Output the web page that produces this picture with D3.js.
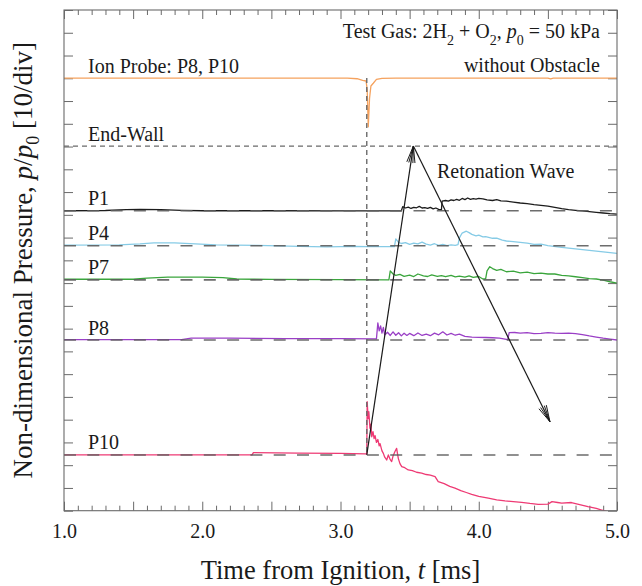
<!DOCTYPE html>
<html><head><meta charset="utf-8">
<script src="https://cdn.jsdelivr.net/npm/d3@7"></script>
<style>
html,body{margin:0;padding:0;background:#fff;}
svg{display:block;font-family:"Liberation Serif","Times New Roman",serif;}
</style></head><body>
<svg id="chart" width="642" height="586"></svg>
<script>
// ---------- DATA ----------
const xDomain = [1.0, 5.0];
const xTickLabels = [1.0, 2.0, 3.0, 4.0, 5.0];
const yDomain = [0, 220];            // p/p0, 10 per division
const channelNames  = ["Ion Probe: P8, P10", "End-Wall", "P1", "P4", "P7", "P8", "P10"];
const channelBase   = [190.1, 160.2, 131.8, 116.4, 101.4, 75.0, 24.5];
const channelColors = ["#f5a25e", null, "#1c1c1c", "#86cbe6", "#3aa53c", "#9a3fc6", "#ee3a74"];

// traces: [time ms, p/p0 deviation from the channel's baseline]
const ionTrace = [[1.0,0],[3.05,0],[3.12,-0.3],[3.16,-1.0],[3.185,-1.3],[3.193,-5],[3.201,-21.4],[3.21,-9],[3.22,-3.5],[3.237,-2.3],[3.26,-0.6],[3.3,-0.1],[3.4,0],[4.5,0],[4.52,-0.4],[4.54,0],[5.0,0]];
const p1Trace = [[1.0,0],[1.3,0.1],[1.45,0.5],[1.55,0.6],[1.7,0.5],[1.85,0.2],[2.0,0],[2.5,0],[3.0,-0.1],[3.44,0],
  [3.45,1.8],[3.47,1.2],[3.49,1.6],[3.51,1.0],[3.53,1.5],[3.55,1.3],[3.57,1.9],[3.59,1.2],[3.61,1.4],[3.63,1.0],[3.65,1.5],[3.67,0.8],[3.69,1.2],[3.71,0.6],[3.73,0.4],
  [3.735,4.2],[3.76,4.5],[3.78,4.2],[3.8,4.8],[3.82,4.5],[3.84,5.0],[3.86,4.6],[3.88,5.4],[3.9,4.9],[3.92,5.6],[3.94,5.0],[3.96,5.3],[3.98,5.1],[4.0,5.4],[4.03,5.2],[4.06,4.8],[4.1,4.5],[4.13,4.9],[4.16,4.3],[4.2,4.2],[4.25,3.8],[4.3,3.4],[4.35,3.1],[4.4,2.7],[4.45,2.4],[4.5,2.0],[4.55,1.5],[4.6,0.9],[4.65,0.5],[4.7,0.2],[4.75,-0.1],[4.8,-0.4],[4.85,-0.7],[4.9,-1.0],[4.95,-1.3],[5.0,-1.5]];
const p4Trace = [[1.0,0.3],[1.4,0.4],[1.55,0.8],[1.65,1.3],[1.8,1.3],[1.95,0.8],[2.1,0.4],[2.4,0.2],[2.7,-0.3],[2.9,-0.5],[3.1,-0.3],[3.2,-0.4],[3.39,-0.4],
  [3.40,3.0],[3.42,1.5],[3.44,1.0],[3.47,1.4],[3.5,0.6],[3.53,1.2],[3.56,0.8],[3.59,1.6],[3.62,0.7],[3.65,0.3],[3.68,0.9],[3.71,0.2],[3.74,0.6],[3.77,0.1],[3.8,0.4],[3.83,0.2],[3.85,0.5],
  [3.86,3.5],[3.88,5.6],[3.91,6.4],[3.93,5.8],[3.95,5.0],[3.98,4.4],[4.0,4.7],[4.03,3.9],[4.05,4.0],[4.1,3.3],[4.13,3.4],[4.17,2.5],[4.2,2.1],[4.25,1.8],[4.3,1.5],[4.35,1.2],[4.4,0.6],[4.45,0.7],[4.5,0.1],[4.6,-0.7],[4.7,-1.4],[4.8,-2.0],[4.9,-2.7],[5.0,-3.3]];
const p7Trace = [[1.0,0.3],[1.5,0.3],[1.6,0.8],[1.75,1.2],[2.0,1.2],[2.15,1.0],[2.25,0.4],[2.5,0.2],[3.0,0.1],[3.35,0.0],
  [3.36,4.0],[3.38,2.6],[3.4,2.0],[3.43,2.4],[3.46,1.6],[3.5,2.1],[3.53,1.5],[3.56,2.6],[3.6,1.8],[3.63,1.5],[3.66,2.2],[3.7,1.6],[3.73,1.9],[3.76,1.4],[3.8,2.0],[3.83,1.3],[3.86,1.7],[3.9,1.2],[3.93,1.8],[3.96,1.1],[4.0,1.5],[4.03,0.4],[4.05,0.6],
  [4.06,4.0],[4.08,5.8],[4.1,5.0],[4.13,4.2],[4.16,4.6],[4.2,3.6],[4.25,3.9],[4.3,3.1],[4.35,3.4],[4.4,2.8],[4.45,3.0],[4.5,2.6],[4.55,2.6],[4.6,2.0],[4.65,1.8],[4.7,1.4],[4.75,1.0],[4.8,0.6],[4.85,0.4],[4.9,-0.1],[4.95,-0.8],[5.0,-1.4]];
const p8Trace = [[1.0,0.2],[1.85,0.2],[1.92,0.8],[2.2,0.8],[2.6,0.6],[3.0,0.6],[3.26,0.5],
  [3.27,7.5],[3.28,4.0],[3.29,6.2],[3.30,3.0],[3.31,5.5],[3.32,2.2],[3.34,3.4],[3.36,2.0],[3.38,3.6],[3.40,2.1],[3.42,3.2],[3.44,1.8],[3.46,3.0],[3.48,2.0],[3.50,2.9],[3.53,1.9],[3.56,3.1],[3.59,2.0],[3.62,2.6],[3.65,1.9],[3.68,3.0],[3.71,2.3],[3.74,3.6],[3.77,2.2],[3.80,2.9],[3.83,2.1],[3.86,2.6],[3.9,1.6],[3.95,1.3],[4.0,1.2],[4.05,1.1],[4.1,1.0],[4.15,0.8],[4.2,0.3],[4.21,0.2],
  [4.22,3.2],[4.26,3.3],[4.3,3.0],[4.35,3.2],[4.4,2.8],[4.45,2.9],[4.5,3.2],[4.55,3.0],[4.6,2.9],[4.65,3.0],[4.7,2.8],[4.75,2.4],[4.8,1.8],[4.85,1.3],[4.9,0.8],[4.95,0.4],[5.0,0.0]];
const p10Trace = [[1.0,0],[2.36,0],[2.37,1.0],[2.7,0.8],[3.0,0.7],[3.18,0.5],[3.19,0.4],
  [3.193,23.4],[3.20,16],[3.205,19],[3.213,11.7],[3.22,13.5],[3.226,8.0],[3.235,10.2],[3.243,7.2],[3.25,8.5],[3.26,5.5],[3.27,6.8],[3.28,4.0],[3.286,5.0],[3.3,1.8],[3.31,0.7],[3.32,-1.0],[3.334,-2.2],[3.346,0.0],[3.358,-1.8],[3.37,-2.9],[3.38,-0.5],[3.394,1.5],[3.406,2.9],[3.418,-1.5],[3.43,-3.8],[3.443,-5.1],
  [3.465,-5.6],[3.49,-6.6],[3.52,-6.9],[3.55,-7.6],[3.587,-8.0],[3.62,-8.6],[3.65,-8.9],[3.684,-9.5],[3.707,-11.7],[3.75,-12.6],[3.79,-13.8],[3.828,-14.6],[3.87,-15.7],[3.91,-16.5],[3.949,-17.3],[4.0,-18.2],[4.069,-19.0],[4.13,-19.7],[4.19,-20.2],[4.25,-20.5],[4.31,-20.8],[4.37,-21.3],[4.43,-21.7],[4.5,-21.6],[4.53,-20.5],[4.57,-20.9],[4.6,-21.2],[4.67,-20.9],[4.73,-21.8],[4.79,-22.7],[4.85,-23.5],[4.89,-24.2],[4.95,-25.2],[5.0,-26.0]];
const traces = [ionTrace, null, p1Trace, p4Trace, p7Trace, p8Trace, p10Trace];

// wave arrows (t, p/p0 positions)
const ignitionT = 3.19;
const arrowIncident = [[3.19, 24.5], [3.527, 160.2]];
const arrowRetonation = [[3.527, 160.2], [4.515, 39.1]];

// ---------- CHART ----------
const svg = d3.select("#chart");
const L = 64, R = 617, T = 10, B = 510.7;
const x = d3.scaleLinear(xDomain, [L, R]);
const y = d3.scaleLinear(yDomain, [B, T]);
const axisColor = "#6a6a6a";

svg.append("defs").append("clipPath").attr("id","clip")
  .append("rect").attr("x",L).attr("y",T).attr("width",R-L).attr("height",B-T);

function styleAxis(g){
  g.select(".domain").remove();
  g.selectAll(".tick line").attr("stroke",axisColor).attr("stroke-width",1);
  g.selectAll("text").attr("fill","#1a1a1a");
}
const majorX = d3.range(1, 5.001, 0.5);
const minorX = d3.range(1, 5.001, 0.1).filter(v => Math.abs(v*2 - Math.round(v*2)) > 1e-6);
const fmt = d3.format(".1f");

svg.append("g").attr("transform",`translate(0,${B})`)
  .call(d3.axisBottom(x).tickValues(majorX).tickSize(-9).tickPadding(13)
    .tickFormat(d => xTickLabels.some(v => Math.abs(v-d)<1e-6) ? fmt(d) : ""))
  .call(styleAxis)
  .call(g => g.selectAll("text").attr("font-size",20).attr("font-family","Liberation Serif"));
svg.append("g").attr("transform",`translate(0,${B})`)
  .call(d3.axisBottom(x).tickValues(minorX).tickSize(-5).tickFormat("")).call(styleAxis);
svg.append("g").attr("transform",`translate(0,${T})`)
  .call(d3.axisTop(x).tickValues(majorX).tickSize(-9).tickFormat("")).call(styleAxis);
svg.append("g").attr("transform",`translate(0,${T})`)
  .call(d3.axisTop(x).tickValues(minorX).tickSize(-5).tickFormat("")).call(styleAxis);
const yTicks = d3.range(0, 220.001, 10);
svg.append("g").attr("transform",`translate(${L},0)`)
  .call(d3.axisLeft(y).tickValues(yTicks).tickSize(-9).tickFormat("")).call(styleAxis);
svg.append("g").attr("transform",`translate(${R},0)`)
  .call(d3.axisRight(y).tickValues(yTicks).tickSize(-9).tickFormat("")).call(styleAxis);

// traces
const line = d3.line().x(d => x(d[0])).y(d => y(d[1]));
const plot = svg.append("g").attr("clip-path","url(#clip)");
traces.forEach((tr, i) => {
  if (!tr) return;
  plot.append("path")
    .datum(tr.map(d => [d[0], channelBase[i] + d[1]]))
    .attr("d", line).attr("fill","none")
    .attr("stroke", channelColors[i]).attr("stroke-width", 1.3)
    .attr("stroke-linejoin","round");
});

// ignition vertical dashed line
plot.append("line")
  .attr("x1", x(ignitionT)).attr("x2", x(ignitionT))
  .attr("y1", y(channelBase[0])).attr("y2", y(channelBase[6]))
  .attr("stroke","#6a6a6a").attr("stroke-width",1.4).attr("stroke-dasharray","5,4");

// end wall dashed
plot.append("line")
  .attr("x1", L).attr("x2", R).attr("y1", y(channelBase[1])).attr("y2", y(channelBase[1]))
  .attr("stroke","#6a6a6a").attr("stroke-width",1.4).attr("stroke-dasharray","5,4");

// baselines dashed
channelBase.forEach((b, i) => {
  if (i < 2) return;
  plot.append("line")
    .attr("x1", L).attr("x2", R).attr("y1", y(b)).attr("y2", y(b))
    .attr("stroke","#5e5e5e").attr("stroke-width",1.6).attr("stroke-dasharray","12,11.3")
    .attr("opacity",0.9);
});

// arrows
function arrow(pts){
  const p0 = [x(pts[0][0]), y(pts[0][1])], p1 = [x(pts[1][0]), y(pts[1][1])];
  plot.append("line").attr("x1",p0[0]).attr("y1",p0[1]).attr("x2",p1[0]).attr("y2",p1[1])
    .attr("stroke","#1a1a1a").attr("stroke-width",1.2);
  const ang = Math.atan2(p1[1]-p0[1], p1[0]-p0[0]);
  const len = 17, half = 14*Math.PI/180;
  [-1, -0.5, 0.5, 1].forEach(s => {
    const a = ang + Math.PI + s*half;
    plot.append("line").attr("x1",p1[0]).attr("y1",p1[1])
      .attr("x2",p1[0]+len*Math.cos(a)).attr("y2",p1[1]+len*Math.sin(a))
      .attr("stroke","#1a1a1a").attr("stroke-width",1);
  });
}
arrow(arrowIncident);
arrow(arrowRetonation);

// frame
svg.append("rect").attr("x",L).attr("y",T).attr("width",R-L).attr("height",B-T)
  .attr("fill","none").attr("stroke",axisColor).attr("stroke-width",1.1);

// channel labels
const labelX = L + 24;
channelNames.forEach((n, i) => {
  svg.append("text").attr("x", labelX).attr("y", y(channelBase[i]) - 5.5)
    .attr("font-size",20).attr("fill","#1a1a1a").text(n);
});

// annotations
const gas = svg.append("text").attr("x",600).attr("y",38).attr("text-anchor","end")
  .attr("font-size",20).attr("fill","#1a1a1a");
gas.append("tspan").text("Test Gas: 2H");
gas.append("tspan").attr("dy",7).attr("font-size",14).text("2");
gas.append("tspan").attr("dy",-7).text(" + O");
gas.append("tspan").attr("dy",7).attr("font-size",14).text("2");
gas.append("tspan").attr("dy",-7).text(", ");
gas.append("tspan").attr("font-style","italic").text("p");
gas.append("tspan").attr("dy",7).attr("font-size",14).text("0");
gas.append("tspan").attr("dy",-7).text(" = 50 kPa");

svg.append("text").attr("x",600).attr("y",71.5).attr("text-anchor","end")
  .attr("font-size",20).attr("fill","#1a1a1a").text("without Obstacle");
svg.append("text").attr("x",437).attr("y",178)
  .attr("font-size",20).attr("fill","#1a1a1a").text("Retonation Wave");

// axis titles
const xt = svg.append("text").attr("x",(L+R)/2).attr("y",579).attr("text-anchor","middle")
  .attr("font-size",26.5).attr("fill","#1a1a1a");
xt.append("tspan").text("Time from Ignition, ");
xt.append("tspan").attr("font-style","italic").text("t");
xt.append("tspan").text(" [ms]");

const yt = svg.append("text").attr("transform",`translate(32,${(T+B)/2}) rotate(-90)`)
  .attr("text-anchor","middle").attr("font-size",27).attr("fill","#1a1a1a");
yt.append("tspan").text("Non-dimensional Pressure, ");
yt.append("tspan").attr("font-style","italic").text("p");
yt.append("tspan").text("/");
yt.append("tspan").attr("font-style","italic").text("p");
yt.append("tspan").attr("dy",7).attr("font-size",18).text("0");
yt.append("tspan").attr("dy",-7).text(" [10/div]");
</script>
</body></html>
